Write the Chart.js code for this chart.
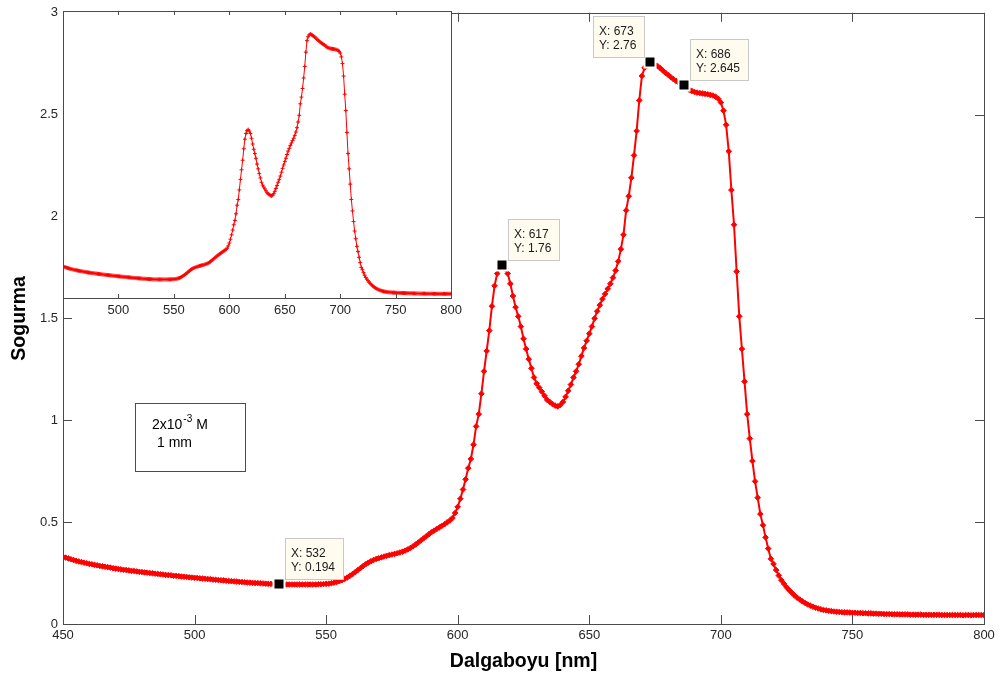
<!DOCTYPE html>
<html lang="tr">
<head>
  <meta charset="UTF-8">
  <title>Sogurma spektrumu</title>
  <script src="https://cdn.jsdelivr.net/npm/chart.js"></script>
  <style>
    html, body { margin: 0; padding: 0; background: #fff; }
    #wrap { position: relative; width: 1001px; height: 675px; }
    #mainChart { position: absolute; left: 0; top: 0; }
    #insetChart { position: absolute; left: 58px; top: 0; }
  </style>
</head>
<body>
  <div id="wrap">
    <canvas id="mainChart" width="1001" height="675"></canvas>
    <canvas id="insetChart" width="409" height="320"></canvas>
  </div>

  <script>
    // wavelength grid starts at 450 nm, one reading per nm
    const WL_START = 450;
    const absorbance = [
      0.330, 0.326, 0.322, 0.318, 0.314, 0.310, 0.307, 0.304, 0.301, 0.298, // 450
      0.295, 0.293, 0.290, 0.288, 0.285, 0.283, 0.281, 0.279, 0.277, 0.274, // 460
      0.272, 0.270, 0.268, 0.266, 0.265, 0.263, 0.261, 0.260, 0.258, 0.256, // 470
      0.255, 0.253, 0.252, 0.250, 0.249, 0.247, 0.246, 0.244, 0.243, 0.241, // 480
      0.240, 0.239, 0.237, 0.236, 0.235, 0.233, 0.232, 0.231, 0.229, 0.228, // 490
      0.227, 0.226, 0.224, 0.223, 0.222, 0.221, 0.220, 0.218, 0.217, 0.216, // 500
      0.215, 0.214, 0.212, 0.211, 0.210, 0.209, 0.208, 0.207, 0.206, 0.205, // 510
      0.204, 0.203, 0.202, 0.201, 0.201, 0.200, 0.199, 0.198, 0.197, 0.197, // 520
      0.196, 0.195, 0.194, 0.194, 0.194, 0.194, 0.194, 0.194, 0.194, 0.194, // 530
      0.194, 0.194, 0.194, 0.194, 0.194, 0.194, 0.194, 0.195, 0.195, 0.196, // 540
      0.197, 0.198, 0.200, 0.203, 0.206, 0.210, 0.215, 0.221, 0.228, 0.236, // 550
      0.245, 0.254, 0.264, 0.274, 0.284, 0.293, 0.301, 0.308, 0.314, 0.319, // 560
      0.323, 0.327, 0.331, 0.335, 0.338, 0.341, 0.344, 0.347, 0.351, 0.355, // 570
      0.360, 0.366, 0.373, 0.381, 0.390, 0.400, 0.410, 0.420, 0.430, 0.440, // 580
      0.450, 0.458, 0.466, 0.474, 0.482, 0.490, 0.499, 0.508, 0.520, 0.545, // 590
      0.575, 0.615, 0.660, 0.710, 0.765, 0.810, 0.880, 0.970, 1.030, 1.130, // 600
      1.240, 1.340, 1.440, 1.560, 1.660, 1.720, 1.750, 1.760, 1.745, 1.720, // 610
      1.670, 1.610, 1.555, 1.510, 1.460, 1.400, 1.350, 1.300, 1.255, 1.210, // 620
      1.180, 1.160, 1.140, 1.120, 1.100, 1.090, 1.080, 1.072, 1.068, 1.075, // 630
      1.090, 1.115, 1.145, 1.175, 1.210, 1.240, 1.275, 1.315, 1.355, 1.390, // 640
      1.425, 1.460, 1.500, 1.535, 1.565, 1.595, 1.620, 1.645, 1.670, 1.700, // 650
      1.735, 1.780, 1.840, 1.910, 2.030, 2.100, 2.190, 2.300, 2.420, 2.570, // 660
      2.690, 2.730, 2.750, 2.760, 2.752, 2.745, 2.738, 2.728, 2.716, 2.705, // 670
      2.695, 2.684, 2.674, 2.665, 2.657, 2.650, 2.645, 2.632, 2.622, 2.616, // 680
      2.611, 2.608, 2.606, 2.604, 2.602, 2.600, 2.597, 2.594, 2.588, 2.578, // 690
      2.560, 2.520, 2.450, 2.320, 2.130, 1.960, 1.730, 1.510, 1.350, 1.190, // 700
      1.030, 0.910, 0.800, 0.700, 0.620, 0.540, 0.485, 0.425, 0.370, 0.320, // 710
      0.295, 0.265, 0.238, 0.215, 0.197, 0.180, 0.166, 0.153, 0.140, 0.129, // 720
      0.120, 0.111, 0.103, 0.096, 0.090, 0.085, 0.080, 0.076, 0.072, 0.069, // 730
      0.067, 0.065, 0.063, 0.061, 0.060, 0.059, 0.058, 0.057, 0.057, 0.056, // 740
      0.055, 0.055, 0.054, 0.054, 0.053, 0.053, 0.052, 0.052, 0.051, 0.051, // 750
      0.050, 0.050, 0.049, 0.049, 0.049, 0.048, 0.048, 0.048, 0.047, 0.047, // 760
      0.047, 0.047, 0.046, 0.046, 0.046, 0.046, 0.046, 0.045, 0.045, 0.045, // 770
      0.045, 0.045, 0.045, 0.045, 0.044, 0.044, 0.044, 0.044, 0.044, 0.044, // 780
      0.044, 0.044, 0.043, 0.044, 0.044, 0.043, 0.044, 0.044, 0.044, 0.044, // 790
      0.044                                                                  // 800
    ];

    // data tips marked on the main curve
    const tipWavelengths = [532, 617, 673, 686];
    const tipValues = [0.194, 1.76, 2.76, 2.645];
    const tipSides = ['ne', 'ne', 'nw', 'ne'];

    const X_MIN = 450, X_MAX = 800, X_STEP = 50;
    const Y_MIN = 0, Y_MAX = 3, Y_STEP = 0.5;

    const points = absorbance.map((v, i) => ({ x: WL_START + i, y: v }));

    const FONT = "'Liberation Sans', Arial, sans-serif";
    const AXIS_COLOR = '#4a4a4a';
    const TEXT_COLOR = '#262626';
    const NOTE_COLOR = 'rgb(255, 0, 0)';

    // matlab style box with inward ticks
    const boxTicks = {
      id: 'boxTicks',
      afterDraw(chart, args, o) {
        const { ctx, chartArea: a, scales: { x, y } } = chart;
        ctx.save();
        ctx.strokeStyle = AXIS_COLOR;
        ctx.lineWidth = 1;
        ctx.strokeRect(Math.round(a.left) + 0.5, Math.round(a.top) + 0.5,
          Math.round(a.right - a.left), Math.round(a.bottom - a.top));
        ctx.beginPath();
        x.ticks.forEach(t => {
          const px = Math.round(x.getPixelForValue(t.value)) + 0.5;
          ctx.moveTo(px, a.bottom); ctx.lineTo(px, a.bottom - o.len);
          ctx.moveTo(px, a.top); ctx.lineTo(px, a.top + o.len);
        });
        if (o.yTicks) {
          y.ticks.forEach(t => {
            const py = Math.round(y.getPixelForValue(t.value)) + 0.5;
            ctx.moveTo(a.left, py); ctx.lineTo(a.left + o.len, py);
            ctx.moveTo(a.right, py); ctx.lineTo(a.right - o.len, py);
          });
        }
        ctx.stroke();
        ctx.restore();
      }
    };

    const whiteArea = {
      id: 'whiteArea',
      beforeDraw(chart) {
        const { ctx, chartArea: a } = chart;
        ctx.save();
        ctx.fillStyle = '#fff';
        ctx.fillRect(a.left, a.top, a.right - a.left, a.bottom - a.top);
        ctx.restore();
      }
    };

    const dataTips = {
      id: 'dataTips',
      afterDatasetsDraw(chart, args, o) {
        const { ctx, scales: { x, y } } = chart;
        ctx.save();
        ctx.font = o.font;
        tipWavelengths.forEach((xv, i) => {
          const px = Math.round(x.getPixelForValue(xv));
          const py = Math.round(y.getPixelForValue(tipValues[i]));
          const l1 = 'X: ' + xv, l2 = 'Y: ' + tipValues[i];
          const w = Math.ceil(Math.max(ctx.measureText(l1).width, ctx.measureText(l2).width)) + 13;
          const h = 41;
          const bx = tipSides[i] === 'nw' ? px - o.gap - w : px + o.gap;
          const by = py - o.lift - h;
          // marker with white halo
          ctx.fillStyle = '#fff';
          ctx.fillRect(px - 6.5, py - 6.5, 13, 13);
          ctx.fillStyle = '#000';
          ctx.fillRect(px - 4.5, py - 4.5, 9, 9);
          // tip box
          ctx.fillStyle = o.fill;
          ctx.fillRect(bx, by, w, h);
          ctx.strokeStyle = o.edge;
          ctx.lineWidth = 1;
          ctx.strokeRect(bx + 0.5, by + 0.5, w, h);
          ctx.fillStyle = '#1a1a1a';
          ctx.textBaseline = 'middle';
          ctx.textAlign = 'left';
          ctx.fillText(l1, bx + 6, by + 16);
          ctx.fillText(l2, bx + 6, by + 30);
        });
        ctx.restore();
      }
    };

    const noteBox = {
      id: 'noteBox',
      afterDraw(chart, args, o) {
        const { ctx, scales: { x, y } } = chart;
        const l = Math.round(x.getPixelForValue(o.x0)), r = Math.round(x.getPixelForValue(o.x1));
        const t = Math.round(y.getPixelForValue(o.y0)), b = Math.round(y.getPixelForValue(o.y1));
        ctx.save();
        // frame drawn as four solid 1px strips
        ctx.fillStyle = NOTE_COLOR;
        ctx.fillRect(l, t, r - l + 1, 1);
        ctx.fillRect(l, b, r - l + 1, 1);
        ctx.fillRect(l, t, 1, b - t + 1);
        ctx.fillRect(r, t, 1, b - t + 1);
        ctx.fillStyle = '#000';
        ctx.textBaseline = 'alphabetic';
        ctx.textAlign = 'left';
        ctx.font = '14px ' + FONT;
        const base = '2x10';
        ctx.fillText(base, l + 17, t + 26);
        let cx = l + 17 + ctx.measureText(base).width + 1;
        ctx.font = '10px ' + FONT;
        ctx.fillText('-3', cx, t + 19);
        cx += ctx.measureText('-3').width;
        ctx.font = '14px ' + FONT;
        ctx.fillText(' M', cx, t + 26);
        ctx.fillText('1 mm', l + 22, t + 44);
        ctx.restore();
      }
    };

    new Chart(document.getElementById('mainChart'), {
      type: 'line',
      data: {
        datasets: [{
          data: points,
          borderColor: '#ff0000',
          backgroundColor: '#ff0000',
          borderWidth: 2,
          pointStyle: 'rectRot',
          pointRadius: 2.8,
          pointBorderWidth: 1,
          pointBorderColor: '#ff0000',
          pointBackgroundColor: '#ff0000',
          tension: 0
        }]
      },
      options: {
        responsive: false,
        animation: false,
        devicePixelRatio: 1,
        layout: { padding: { top: 10, right: 17, bottom: 0, left: 0 } },
        plugins: {
          legend: { display: false },
          tooltip: { enabled: false },
          boxTicks: { len: 9, yTicks: true },
          dataTips: { font: '12px ' + FONT, fill: '#fffbef', edge: '#c8c8c8', gap: 6, lift: 5 },
          noteBox: { x0: 477.2, x1: 519, y0: 1.085, y1: 0.752 }
        },
        scales: {
          x: {
            type: 'linear',
            min: X_MIN, max: X_MAX,
            ticks: { stepSize: X_STEP, padding: 4, color: TEXT_COLOR, font: { family: FONT, size: 13 }, maxRotation: 0, autoSkip: false },
            grid: { display: false, drawTicks: false },
            border: { display: false },
            title: { display: true, text: 'Dalgaboyu [nm]', color: '#000', font: { family: FONT, size: 19.5, weight: 'bold' }, padding: { top: 0, bottom: 2 } },
            afterFit: s => { s.height = 51; }
          },
          y: {
            type: 'linear',
            min: Y_MIN, max: Y_MAX,
            ticks: { stepSize: Y_STEP, padding: 5, color: TEXT_COLOR, font: { family: FONT, size: 13 }, callback: v => String(v) },
            grid: { display: false, drawTicks: false },
            border: { display: false },
            title: { display: true, text: 'Sogurma', color: '#000', font: { family: FONT, size: 19.5, weight: 'bold' }, padding: { top: 8, bottom: 0 } },
            afterFit: s => { s.width = 63; }
          }
        }
      },
      plugins: [boxTicks, dataTips, noteBox]
    });

    // inset: same spectrum, thin line with + markers
    new Chart(document.getElementById('insetChart'), {
      type: 'line',
      data: {
        datasets: [{
          data: points,
          borderColor: '#ff0000',
          borderWidth: 1,
          pointStyle: 'cross',
          pointRadius: 2,
          pointBorderWidth: 1,
          pointBorderColor: '#ff0000',
          tension: 0
        }]
      },
      options: {
        responsive: false,
        animation: false,
        devicePixelRatio: 1,
        layout: { padding: { top: 11, right: 12, bottom: 0, left: 0 } },
        plugins: {
          legend: { display: false },
          tooltip: { enabled: false },
          boxTicks: { len: 4, yTicks: false }
        },
        scales: {
          x: {
            type: 'linear',
            min: X_MIN, max: X_MAX,
            ticks: { stepSize: X_STEP, padding: 5, color: TEXT_COLOR, font: { family: FONT, size: 13 }, maxRotation: 0, autoSkip: false,
              callback: v => v === X_MIN ? '' : String(v) },
            grid: { display: false, drawTicks: false },
            border: { display: false },
            afterFit: s => { s.height = 22; }
          },
          y: { display: false, min: Y_MIN, max: Y_MAX }
        }
      },
      plugins: [whiteArea, boxTicks]
    });
  </script>
</body>
</html>
